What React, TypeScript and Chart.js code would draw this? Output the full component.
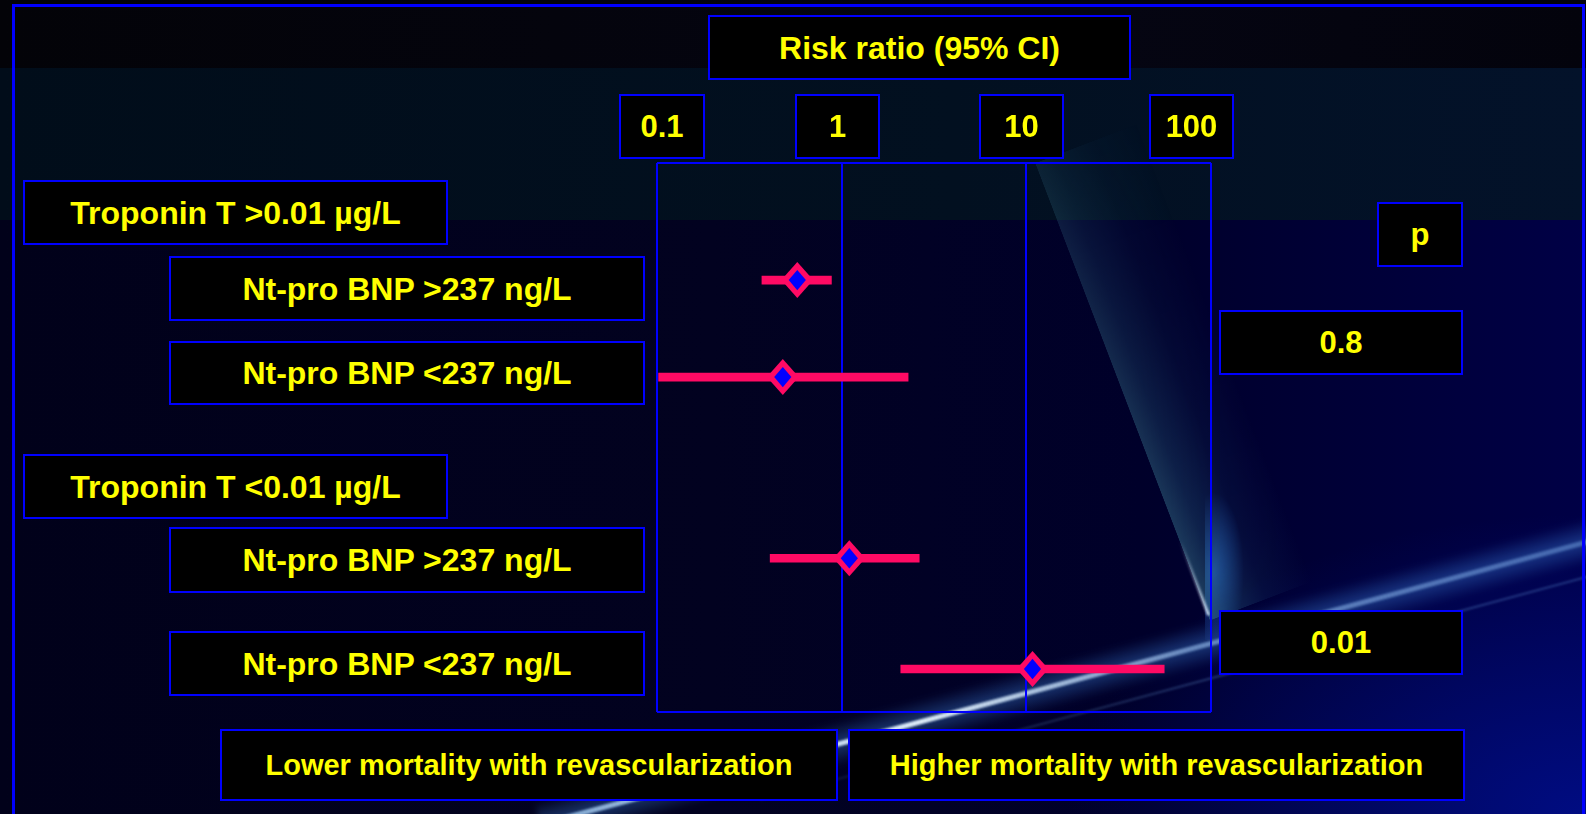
import React, { useEffect, useRef } from "react";
import { Chart, registerables } from "chart.js";

Chart.register(...registerables);

// ---------- data ----------
const groupLabels = ["Troponin T >0.01 µg/L", "Troponin T <0.01 µg/L"];
const subgroupLabels = [
  "Nt-pro BNP >237 ng/L",
  "Nt-pro BNP <237 ng/L",
  "Nt-pro BNP >237 ng/L",
  "Nt-pro BNP <237 ng/L",
];
const riskRatio = [0.575, 0.48, 1.1, 10.8];
const ciLow = [0.37, 0.102, 0.41, 2.09];
const ciHigh = [0.88, 2.29, 2.63, 55.8];
// vertical row position of each subgroup (row units, 0 = top of plot, 6 = bottom)
const rowPos = [1.28, 2.34, 4.32, 5.53];
const xTickValues = [0.1, 1, 10, 100];
const xTickLabels = ["0.1", "1", "10", "100"];
const pLabel = "p";
const pValues = ["0.8", "0.01"];
const axisTitle = "Risk ratio (95% CI)";
const leftNote = "Lower mortality with revascularization";
const rightNote = "Higher mortality with revascularization";

// ---------- layout / style ----------
const BLUE = "#0000ff";
const YELLOW = "#ffff00";
const PINK = "#ff0a64";
const FONT = '"Liberation Sans", Arial, Helvetica, sans-serif';

const tickBoxes = [
  { x: 619, w: 86 },
  { x: 795, w: 85 },
  { x: 979, w: 85 },
  { x: 1149, w: 85 },
];
const groupBoxes = [
  { x: 23, y: 180, w: 425, h: 65 },
  { x: 23, y: 454, w: 425, h: 65 },
];
const subBoxes = [
  { x: 169, y: 256, w: 476, h: 65 },
  { x: 169, y: 341, w: 476, h: 64 },
  { x: 169, y: 527, w: 476, h: 66 },
  { x: 169, y: 631, w: 476, h: 65 },
];
const pBoxes = [
  { x: 1219, y: 310, w: 244, h: 65 },
  { x: 1219, y: 610, w: 244, h: 65 },
];

type BoxProps = {
  x: number;
  y: number;
  w: number;
  h: number;
  size: number;
  children: React.ReactNode;
};

function Box({ x, y, w, h, size, children }: BoxProps) {
  return (
    <div
      style={{
        position: "absolute",
        left: x,
        top: y,
        width: w,
        height: h,
        boxSizing: "border-box",
        border: `2px solid ${BLUE}`,
        background: "#000",
        color: YELLOW,
        fontFamily: FONT,
        fontWeight: 700,
        fontSize: size,
        lineHeight: 1,
        display: "flex",
        alignItems: "center",
        justifyContent: "center",
        whiteSpace: "nowrap",
        zIndex: 3,
      }}
    >
      {children}
    </div>
  );
}

function diamondPath(ctx: CanvasRenderingContext2D, x: number, y: number, hw: number, hh: number) {
  ctx.beginPath();
  ctx.moveTo(x, y - hh);
  ctx.lineTo(x + hw, y);
  ctx.lineTo(x, y + hh);
  ctx.lineTo(x - hw, y);
  ctx.closePath();
}

// draws the point-estimate diamonds at the element positions computed by the scales
const diamondPlugin = {
  id: "diamonds",
  afterDatasetsDraw(chart: any) {
    const meta = chart.getDatasetMeta(0);
    const ctx = chart.ctx as CanvasRenderingContext2D;
    ctx.save();
    meta.data.forEach((pt: any) => {
      const { x, y } = pt;
      diamondPath(ctx, x, y, 16, 18);
      ctx.fillStyle = PINK;
      ctx.fill();
      diamondPath(ctx, x, y, 8.6, 10.2);
      ctx.fillStyle = BLUE;
      ctx.fill();
    });
    ctx.restore();
  },
};

function ForestChart() {
  const ref = useRef<HTMLCanvasElement | null>(null);
  useEffect(() => {
    if (!ref.current) return;
    const chart = new Chart(ref.current, {
      type: "bar",
      data: {
        datasets: [
          {
            type: "scatter",
            label: "Risk ratio",
            data: rowPos.map((y, i) => ({ x: riskRatio[i], y })),
            pointRadius: 0,
            order: 0,
          } as any,
          {
            type: "bar",
            label: "95% CI",
            data: rowPos.map((y, i) => ({ x: [ciLow[i], ciHigh[i]], y })),
            backgroundColor: PINK,
            borderWidth: 0,
            borderSkipped: false,
            barThickness: 8,
            order: 1,
          } as any,
        ],
      },
      options: {
        indexAxis: "y",
        animation: false,
        responsive: true,
        maintainAspectRatio: false,
        events: [],
        layout: { padding: { left: 17, top: 13, right: 19, bottom: 18 } },
        plugins: {
          legend: { display: false },
          tooltip: { enabled: false },
        },
        scales: {
          x: {
            type: "logarithmic",
            min: 0.1,
            max: 100,
            offset: false,
            afterBuildTicks: (s: any) => {
              s.ticks = xTickValues.map((v) => ({ value: v }));
            },
            ticks: { display: false },
            border: { display: false },
            grid: {
              color: BLUE,
              lineWidth: 2,
              drawTicks: false,
              offset: false,
            },
          },
          y: {
            type: "linear",
            min: 0,
            max: 6,
            reverse: true,
            offset: false,
            afterBuildTicks: (s: any) => {
              s.ticks = [{ value: 0 }, { value: 6 }];
            },
            ticks: { display: false },
            border: { display: false },
            grid: {
              color: BLUE,
              lineWidth: 2,
              drawTicks: false,
              offset: false,
            },
          },
        },
      } as any,
      plugins: [diamondPlugin],
    });
    return () => chart.destroy();
  }, []);
  return (
    <div
      style={{
        position: "absolute",
        left: 640,
        top: 150,
        width: 590,
        height: 580,
        zIndex: 2,
      }}
    >
      <canvas ref={ref} />
    </div>
  );
}

function Streak({
  x,
  y,
  len,
  angle,
  h,
  bg,
  blur = 0,
}: {
  x: number;
  y: number;
  len: number;
  angle: number;
  h: number;
  bg: string;
  blur?: number;
}) {
  return (
    <div
      style={{
        position: "absolute",
        left: x,
        top: y - h / 2,
        width: len,
        height: h,
        transformOrigin: "0 50%",
        transform: `rotate(${angle}deg)`,
        background: bg,
        filter: blur ? `blur(${blur}px)` : undefined,
      }}
    />
  );
}

function Background() {
  const mask = "linear-gradient(180deg, rgba(0,0,0,0.35) 0%, rgba(0,0,0,0.75) 55%, #000 100%)";
  return (
    <>
      {/* base */}
      <div
        style={{
          position: "absolute",
          inset: 0,
          background:
            "linear-gradient(90deg, #01011a 0%, #020220 45%, #00002a 72%, #000046 100%)",
        }}
      />
      <div
        style={{
          position: "absolute",
          inset: 0,
          background:
            "radial-gradient(ellipse 520px 300px at 100% 100%, rgba(0,20,170,0.6), rgba(0,0,0,0) 100%)",
        }}
      />
      {/* top dark band */}
      <div
        style={{
          position: "absolute",
          left: 0,
          top: 0,
          width: 1586,
          height: 68,
          background: "linear-gradient(90deg, #030308 0%, #050512 70%, #03030c 100%)",
        }}
      />
      {/* teal band */}
      <div
        style={{
          position: "absolute",
          left: 0,
          top: 68,
          width: 1586,
          height: 152,
          background: "linear-gradient(90deg, #010d1a 0%, #021020 60%, #03122a 100%)",
        }}
      />
      {/* glow hugging the right edge of the plot */}
      <div
        style={{
          position: "absolute",
          left: 1205,
          top: 470,
          width: 60,
          height: 170,
          background:
            "radial-gradient(ellipse 30px 80px at 15% 60%, rgba(50,130,240,0.6), rgba(0,0,0,0) 100%)",
        }}
      />
      {/* light cone inside the plot */}
      <div
        style={{
          position: "absolute",
          left: 1035,
          top: 163,
          width: 110,
          height: 490,
          transformOrigin: "0 0",
          transform: "rotate(-20.9deg)",
          background:
            "linear-gradient(90deg, rgba(55,115,140,0.55) 0%, rgba(40,95,130,0.4) 20%, rgba(25,65,110,0.2) 55%, rgba(0,0,0,0) 100%)",
          WebkitMaskImage: mask,
          maskImage: mask,
        }}
      />
      <Streak
        x={1180}
        y={540}
        len={80}
        angle={69}
        h={3}
        blur={0.8}
        bg="linear-gradient(90deg, rgba(200,220,240,0) 0%, rgba(220,235,255,0.85) 100%)"
      />
      {/* diagonal light streaks */}
      <Streak
        x={540}
        y={824}
        len={1120}
        angle={-15.1}
        h={44}
        blur={3}
        bg="linear-gradient(180deg, rgba(40,90,190,0) 0%, rgba(60,130,220,0.4) 50%, rgba(40,90,190,0) 100%)"
      />
      <Streak
        x={540}
        y={824}
        len={1120}
        angle={-15.1}
        h={5}
        blur={1.2}
        bg="linear-gradient(90deg, rgba(170,215,255,0.7) 0%, rgba(230,245,255,0.95) 35%, rgba(170,210,255,0.55) 60%, rgba(130,180,240,0.4) 100%)"
      />
      <Streak
        x={760}
        y={800}
        len={900}
        angle={-15.1}
        h={2}
        blur={0.8}
        bg="linear-gradient(90deg, rgba(120,170,230,0.1) 0%, rgba(120,180,240,0.3) 60%, rgba(100,160,230,0.3) 100%)"
      />
      {/* outer frame */}
      <div
        style={{
          position: "absolute",
          left: 12,
          top: 4,
          width: 1573,
          height: 840,
          boxSizing: "border-box",
          border: `3px solid ${BLUE}`,
          zIndex: 4,
        }}
      />
    </>
  );
}

export default function App() {
  useEffect(() => {
    document.body.style.margin = "0";
    document.body.style.background = "#000";
  }, []);
  return (
    <div
      style={{
        position: "relative",
        width: 1586,
        height: 814,
        overflow: "hidden",
        background: "#01011a",
      }}
    >
      <Background />
      <Box x={708} y={15} w={423} h={65} size={32}>
        {axisTitle}
      </Box>
      {xTickLabels.map((t, i) => (
        <Box key={"t" + i} x={tickBoxes[i].x} y={94} w={tickBoxes[i].w} h={65} size={31}>
          {t}
        </Box>
      ))}
      {groupLabels.map((g, i) => (
        <Box key={"g" + i} x={groupBoxes[i].x} y={groupBoxes[i].y} w={groupBoxes[i].w} h={groupBoxes[i].h} size={32}>
          {g}
        </Box>
      ))}
      {subgroupLabels.map((s, i) => (
        <Box key={"s" + i} x={subBoxes[i].x} y={subBoxes[i].y} w={subBoxes[i].w} h={subBoxes[i].h} size={32}>
          {s}
        </Box>
      ))}
      <Box x={1377} y={202} w={86} h={65} size={31}>
        {pLabel}
      </Box>
      {pValues.map((p, i) => (
        <Box key={"p" + i} x={pBoxes[i].x} y={pBoxes[i].y} w={pBoxes[i].w} h={pBoxes[i].h} size={31}>
          {p}
        </Box>
      ))}
      <Box x={220} y={729} w={618} h={72} size={29}>
        {leftNote}
      </Box>
      <Box x={848} y={729} w={617} h={72} size={29}>
        {rightNote}
      </Box>
      <ForestChart />
    </div>
  );
}
